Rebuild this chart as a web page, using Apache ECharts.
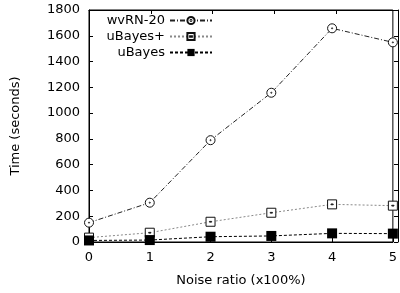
<!DOCTYPE html>
<html>
<head>
<meta charset="utf-8">
<script src="https://cdn.jsdelivr.net/npm/echarts@6/dist/echarts.min.js"></script>
<style>
  html, body { margin: 0; padding: 0; background: #fff; }
  #chart { width: 400px; height: 293px; }
</style>
</head>
<body>
<div id="chart"></div>
<script>
// noise ratio (x100%)
const noiseRatio = [0, 1, 2, 3, 4, 5]
// time in seconds
const wvrn20 = [150, 305, 790, 1158, 1658, 1549]
const uBayesPlus = [34, 72, 157, 227, 292, 282]
const uBayes = [12, 15, 41, 47, 67, 65]

const FONT = 'DejaVu Sans'

// gnuplot style points: circle / square with a small mark in the middle
const CIRCLE_DOT = 'path://M0,-10A10,10,0,1,1,0,10A10,10,0,1,1,0,-10ZM0,-1.2A1.2,1.2,0,1,1,0,1.2A1.2,1.2,0,1,1,0,-1.2Z'
const SQUARE_DOT = 'path://M-10,-10H10V10H-10ZM-2.5,-0.8H2.5V0.8H-2.5Z'

const chart = echarts.init(document.getElementById('chart'))

const toPairs = arr => arr.map((v, i) => [noiseRatio[i], v])
const plain = v => String(v)

function axisStyle() {
  return {
    axisLine: { show: true, onZero: false, lineStyle: { color: '#000', width: 1 } },
    axisTick: { show: true, inside: true, length: 4, lineStyle: { color: '#000', width: 1 } },
    splitLine: { show: false },
  }
}

function legendFor(name, top) {
  return {
    data: [name],
    right: 187,
    top: top,
    align: 'right',
    padding: 0,
    itemWidth: 42,
    itemHeight: 9,
    textStyle: { fontFamily: FONT, fontSize: 13, color: '#000' },
  }
}

const plotBox = { left: 89, right: 2, top: 10, bottom: 51 }

chart.setOption({
  animation: false,
  // grid 0 holds the data, grid 1 only carries the mirrored top/right ticks
  grid: [
    { ...plotBox, show: true, borderColor: '#000', borderWidth: 1 },
    { ...plotBox },
  ],
  legend: [
    legendFor('wvRN-20', 14),
    legendFor('uBayes+', 30),
    legendFor('uBayes', 46),
  ],
  xAxis: [
    {
      ...axisStyle(),
      gridIndex: 0,
      type: 'value',
      min: 0,
      max: 5,
      interval: 1,
      position: 'bottom',
      name: 'Noise ratio (x100%)',
      nameLocation: 'middle',
      nameGap: 32,
      nameTextStyle: { fontFamily: FONT, fontSize: 13, color: '#000' },
      axisLabel: { fontFamily: FONT, fontSize: 13, color: '#000', margin: 9, formatter: plain },
    },
    {
      ...axisStyle(),
      gridIndex: 1,
      type: 'value',
      min: 0,
      max: 5,
      interval: 1,
      position: 'top',
      axisLabel: { show: false },
    },
  ],
  yAxis: [
    {
      ...axisStyle(),
      gridIndex: 0,
      type: 'value',
      min: 0,
      max: 1800,
      interval: 200,
      position: 'left',
      name: 'Time (seconds)',
      nameLocation: 'middle',
      nameGap: 67,
      nameTextStyle: { fontFamily: FONT, fontSize: 13, color: '#000' },
      axisLabel: { fontFamily: FONT, fontSize: 13, color: '#000', margin: 9, formatter: plain },
    },
    {
      ...axisStyle(),
      gridIndex: 1,
      type: 'value',
      min: 0,
      max: 1800,
      interval: 200,
      position: 'right',
      axisLabel: { show: false },
    },
  ],
  series: [
    {
      name: 'wvRN-20',
      type: 'line',
      data: toPairs(wvrn20),
      symbol: CIRCLE_DOT,
      symbolSize: 9,
      lineStyle: { color: '#222', width: 1, type: [5, 2, 1, 2] },
      itemStyle: { color: '#fff', borderColor: '#111', borderWidth: 1 },
    },
    {
      name: 'uBayes+',
      type: 'line',
      data: toPairs(uBayesPlus),
      symbol: SQUARE_DOT,
      symbolSize: 9,
      lineStyle: { color: '#888', width: 1, type: [2, 2] },
      itemStyle: { color: '#fff', borderColor: '#111', borderWidth: 1 },
    },
    {
      name: 'uBayes',
      type: 'line',
      data: toPairs(uBayes),
      symbol: 'rect',
      symbolSize: 10,
      lineStyle: { color: '#000', width: 1, type: [3, 2] },
      itemStyle: { color: '#000' },
    },
    // empty series on grid 1 so its axes are laid out
    {
      type: 'line',
      xAxisIndex: 1,
      yAxisIndex: 1,
      data: [],
      silent: true,
    },
  ],
})
</script>
</body>
</html>
